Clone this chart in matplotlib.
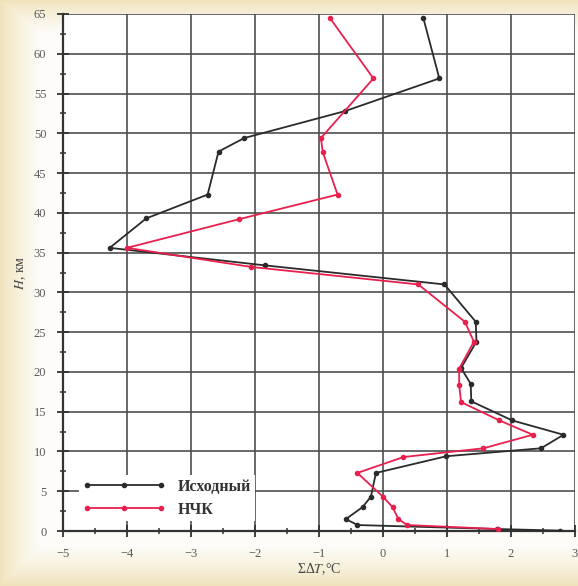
import numpy as np
import matplotlib
matplotlib.use("Agg")
import matplotlib.pyplot as plt
from matplotlib.ticker import MultipleLocator

plt.rcParams["font.family"] = ["Liberation Serif", "DejaVu Serif"]
plt.rcParams["mathtext.fontset"] = "stix"

# Profile of accumulated temperature deviation vs height
h_src = [64.5, 56.9, 52.8, 49.4, 47.7, 42.3, 39.3, 35.6, 33.4, 31.0, 26.3, 23.8,
         20.5, 18.5, 16.3, 13.9, 12.1, 10.4, 9.4, 7.3, 4.3, 3.0, 1.5, 0.75, 0.25, 0.05]
t_src = [0.63, 0.88, -0.59, -2.17, -2.57, -2.74, -3.70, -4.27, -1.85, 0.96, 1.45, 1.46,
         1.22, 1.37, 1.38, 2.02, 2.82, 2.47, 0.99, -0.11, -0.19, -0.32, -0.58, -0.40, 1.78, 2.76]

h_nch = [64.5, 56.9, 49.4, 47.6, 42.3, 39.2, 35.6, 33.2, 31.0, 26.3, 23.8, 20.4,
         18.4, 16.2, 13.9, 12.1, 10.4, 9.3, 7.3, 4.3, 3.0, 1.5, 0.75, 0.25]
t_nch = [-0.83, -0.15, -0.97, -0.94, -0.71, -2.25, -4.00, -2.06, 0.55, 1.28, 1.42, 1.19,
         1.19, 1.22, 1.82, 2.34, 1.57, 0.32, -0.40, 0.00, 0.15, 0.24, 0.38, 1.79]

labels = ["Исходный", "НЧК"]
x_ticks = [-5, -4, -3, -2, -1, 0, 1, 2, 3]
y_ticks = list(range(0, 70, 5))

W, H = 578, 586
fig = plt.figure(figsize=(W / 100, H / 100), dpi=100)

# soft cream border fading to white
bg = fig.add_axes([0, 0, 1, 1], zorder=-10)
yy, xx = np.mgrid[0:H, 0:W]
d = np.minimum.reduce([xx * 0.8, yy + 0.0, (H - 1 - yy) * 0.8, (W - 1 - xx) + 40.0])
t = np.clip(d / 32.0, 0, 1)[..., None] ** 0.8
cream = np.array([240, 227, 188]) / 255.0
white = np.array([253, 252, 248]) / 255.0
img = cream * (1 - t) + white * t
bg.imshow(img, extent=[0, 1, 0, 1], aspect="auto", origin="upper")
bg.axis("off")

ax = fig.add_axes([63 / W, (H - 531) / H, (575 - 63) / W, (531 - 14) / H])
ax.set_facecolor("white")
ax.set_xlim(-5, 3)
ax.set_ylim(0, 65)
ax.set_xticks(x_ticks)
ax.set_yticks(y_ticks)
ax.xaxis.set_minor_locator(MultipleLocator(0.5))
ax.yaxis.set_minor_locator(MultipleLocator(2.5))
ax.grid(True, which="major", color="#474747", lw=1.15)
ax.set_axisbelow(True)

for s in ["bottom", "left"]:
    ax.spines[s].set_linewidth(1.6)
    ax.spines[s].set_color("#333333")
ax.spines["top"].set_visible(False)
ax.spines["right"].set_visible(False)

ax.tick_params(which="major", direction="inout", length=8, width=1.3, color="#333333",
               labelsize=9, labelcolor="#5a5a5a")
ax.tick_params(which="minor", direction="inout", length=4, width=1.1, color="#333333")
ax.tick_params(axis="x", pad=8)
ax.tick_params(axis="y", pad=8)

ax.plot(t_src, h_src, color="#2b2b2b", lw=1.3, marker="o", ms=3, label=labels[0], zorder=3)
ax.plot(t_nch, h_nch, color="#e8204e", lw=1.3, marker="o", ms=3, label=labels[1], zorder=3)

ax.set_xlabel(r"ΣΔ$T$,°C", fontsize=10, color="#444444", labelpad=1)
ax.set_ylabel(r"$H$, км", fontsize=10, color="#444444", labelpad=4)

leg = ax.legend(loc="lower left", bbox_to_anchor=(0.016, 0.004), numpoints=3,
                handlelength=5.25, frameon=True, framealpha=1, fancybox=False,
                edgecolor="none", facecolor="white", prop={"weight": "bold", "size": 11.5},
                borderpad=0.2, labelspacing=0.45, handletextpad=0.75)
for txt in leg.get_texts():
    txt.set_color("#333333")

fig.savefig("out.png", dpi=100)
